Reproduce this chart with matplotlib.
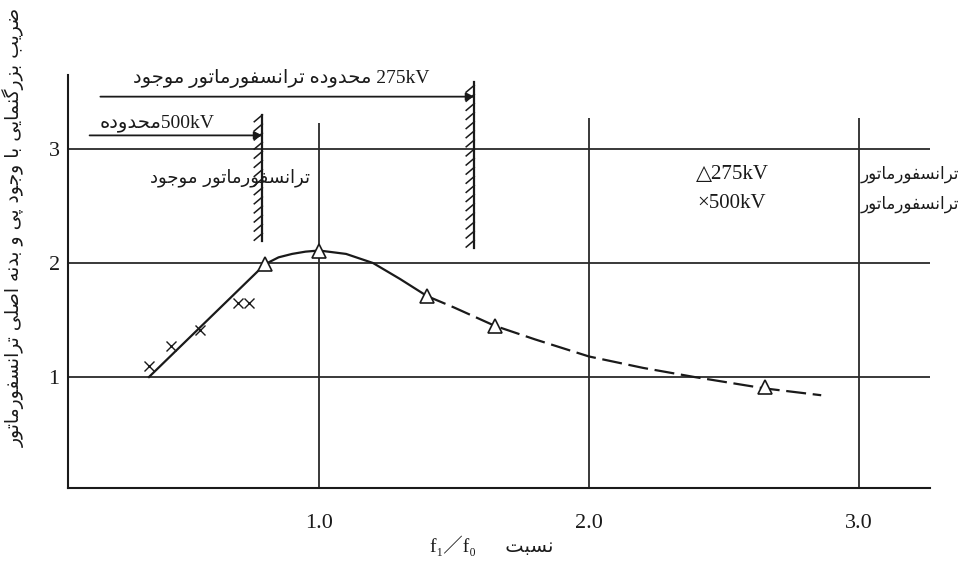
import numpy as np
import matplotlib
matplotlib.use("Agg")
import matplotlib.pyplot as plt

# --- Persian shaping (no reshaper lib available) ---
FORMS = {
    'ا': (0xFE8D, 0xFE8E, None, None),
    'ب': (0xFE8F, 0xFE90, 0xFE91, 0xFE92),
    'پ': (0xFB56, 0xFB57, 0xFB58, 0xFB59),
    'ت': (0xFE95, 0xFE96, 0xFE97, 0xFE98),
    'ج': (0xFE9D, 0xFE9E, 0xFE9F, 0xFEA0),
    'ح': (0xFEA1, 0xFEA2, 0xFEA3, 0xFEA4),
    'د': (0xFEA9, 0xFEAA, None, None),
    'ر': (0xFEAD, 0xFEAE, None, None),
    'ز': (0xFEAF, 0xFEB0, None, None),
    'س': (0xFEB1, 0xFEB2, 0xFEB3, 0xFEB4),
    'ص': (0xFEB9, 0xFEBA, 0xFEBB, 0xFEBC),
    'ض': (0xFEBD, 0xFEBE, 0xFEBF, 0xFEC0),
    'ف': (0xFED1, 0xFED2, 0xFED3, 0xFED4),
    'گ': (0xFB92, 0xFB93, 0xFB94, 0xFB95),
    'ل': (0xFEDD, 0xFEDE, 0xFEDF, 0xFEE0),
    'م': (0xFEE1, 0xFEE2, 0xFEE3, 0xFEE4),
    'ن': (0xFEE5, 0xFEE6, 0xFEE7, 0xFEE8),
    'ه': (0xFEE9, 0xFEEA, 0xFEEB, 0xFEEC),
    'و': (0xFEED, 0xFEEE, None, None),
    'ی': (0xFBFC, 0xFBFD, 0xFBFE, 0xFBFF),
}


def fa(text):
    out = []
    for i, c in enumerate(text):
        if c not in FORMS:
            out.append(c)
            continue
        prev = text[i - 1] if i > 0 else None
        nxt = text[i + 1] if i + 1 < len(text) else None
        join_prev = prev in FORMS and FORMS[prev][2] is not None
        join_next = nxt in FORMS and FORMS[c][2] is not None
        iso, fin, ini, med = FORMS[c]
        if join_prev and join_next:
            f = med
        elif join_prev:
            f = fin
        elif join_next:
            f = ini
        else:
            f = iso
        out.append(chr(f))
    return ''.join(out)[::-1]


# --- data ---
curve_solid_x = [0.37, 0.80, 0.85, 0.90, 0.95, 1.00, 1.10, 1.20, 1.30, 1.40]
curve_solid_y = [1.00, 1.99, 2.05, 2.08, 2.10, 2.11, 2.08, 2.00, 1.86, 1.71]
curve_dash_x = [1.40, 1.50, 1.65, 1.80, 2.00, 2.20, 2.39, 2.65, 2.86]
curve_dash_y = [1.71, 1.61, 1.45, 1.33, 1.18, 1.08, 1.00, 0.90, 0.84]

tri_x = [0.80, 1.00, 1.40, 1.65, 2.65]   # 275kV
tri_y = [1.99, 2.11, 1.71, 1.45, 0.91]
cross_x = [0.37, 0.45, 0.56, 0.70, 0.74]  # 500kV
cross_y = [1.10, 1.27, 1.41, 1.65, 1.65]

x_grid = [1.0, 2.0, 3.0]
x_grid_top = [3.23, 3.27, 3.27]
y_grid = [1, 2, 3]
x_ticklabels = ['1.0', '2.0', '3.0']
y_ticklabels = ['1', '2', '3']

wall_x = [0.79, 1.575]          # 500kV, 275kV limits
wall_lo = [2.19, 2.13]
wall_hi = [3.30, 3.59]
arrow_start = [0.15, 0.19]
arrow_y = [3.12, 3.46]

INK = '#1a1a1a'
SERIF = ['Liberation Serif', 'DejaVu Sans', 'Noto Sans CJK JP']
SANS = ['DejaVu Sans']

fig = plt.figure(figsize=(9.65, 5.61), dpi=100)
ax = fig.add_axes([68 / 965, 73 / 561, 862 / 965, 413 / 561])
ax.set_xlim(0.07, 3.263)
ax.set_ylim(0.026, 3.65)

for s in ['top', 'right']:
    ax.spines[s].set_visible(False)
for s in ['left', 'bottom']:
    ax.spines[s].set_linewidth(1.5)
    ax.spines[s].set_color(INK)

# grid
for yv in y_grid:
    ax.axhline(yv, color='#2a2a2a', lw=1.3, zorder=1)
ax.vlines(x_grid, 0, x_grid_top, color='#2a2a2a', lw=1.3, zorder=1)

ax.set_xticks(x_grid)
ax.set_xticklabels(x_ticklabels, fontfamily=SERIF, fontsize=16)
ax.set_yticks(y_grid)
ax.set_yticklabels(y_ticklabels, fontfamily=SERIF, fontsize=16)
ax.tick_params(axis='x', length=0, pad=19, colors=INK)
ax.tick_params(axis='y', length=0, pad=6, colors=INK)

# curve
ax.plot(curve_solid_x, curve_solid_y, color=INK, lw=1.6, zorder=3)
ax.plot(curve_dash_x, curve_dash_y, color=INK, lw=1.6, dashes=(9, 3), zorder=3)

ax.plot(tri_x, tri_y, linestyle='none', marker='^', ms=10, mfc='white',
        mec=INK, mew=1.2, zorder=4)
ax.plot(cross_x, cross_y, linestyle='none', marker='x', ms=7,
        mec=INK, mew=1.0, zorder=4)

# hatched limit walls with arrows
for wx, lo, hi, xs, ay in zip(wall_x, wall_lo, wall_hi, arrow_start, arrow_y):
    ax.plot([wx, wx], [lo, hi], color=INK, lw=1.6, zorder=3)
    for yy in np.arange(lo + 0.01, hi - 0.05, 0.08):
        ax.plot([wx - 0.03, wx], [yy, yy + 0.06], color=INK, lw=1.1, zorder=3)
    ax.annotate('', xy=(wx, ay), xytext=(xs, ay),
                arrowprops=dict(arrowstyle='-|>', color=INK, lw=1.3,
                                mutation_scale=12, shrinkA=0, shrinkB=0))

# texts
ax.text(0.86, 3.62, fa('محدوده ترانسفورماتور موجود') + ' 275kV',
        ha='center', va='center', fontsize=14, family=SERIF, color=INK)
ax.text(0.40, 3.23, fa('محدوده') + '500kV',
        ha='center', va='center', fontsize=14, family=SERIF, color=INK)
ax.text(0.67, 2.75, fa('ترانسفورماتور موجود'),
        ha='center', va='center', fontsize=13, family=SANS, color=INK)

ax.text(2.53, 2.78, '△275kV', ha='center', va='center', fontsize=15,
        family=SERIF, color=INK)
ax.text(2.53, 2.52, '×500kV', ha='center', va='center', fontsize=15,
        family=SERIF, color=INK)
for ty in [2.78, 2.52]:
    ax.text(3.005, ty, fa('ترانسفورماتور'), ha='left', va='center',
            fontsize=12, family=SANS, color=INK, clip_on=False)

fig.text(492 / 965, 1 - 546 / 561, 'f₁／f₀      ' + fa('نسبت'), ha='center',
         va='center', fontsize=14, family=SERIF, color=INK)
fig.text(14 / 965, 1 - 227 / 561,
         fa('ضریب بزرگنمایی با وجود پی و بدنه اصلی ترانسفورماتور'),
         rotation=90, ha='center', va='center', fontsize=13.5, family=SANS,
         color=INK)

fig.savefig('out.png', dpi=100, facecolor='white')
